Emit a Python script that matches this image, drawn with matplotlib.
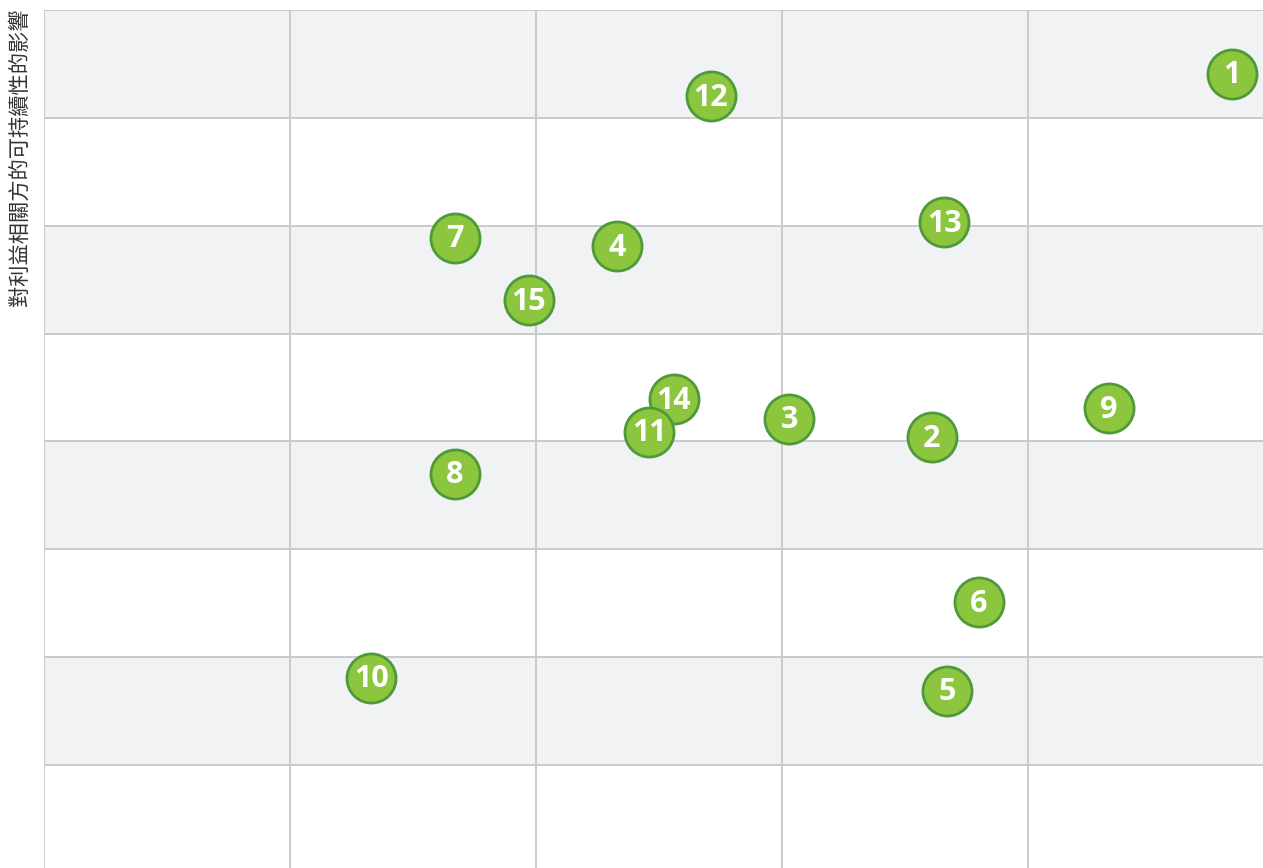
import matplotlib.pyplot as plt

# issue positions (x = column units, y = impact on stakeholders)
labels = ["1", "2", "3", "4", "5", "6", "7", "8", "9", "10", "11", "12", "13", "14", "15"]
x_vals = [4.83, 3.61, 3.03, 2.33, 3.67, 3.80, 1.67, 1.67, 4.33, 1.33, 2.46, 2.71, 3.66, 2.56, 1.97]
y_vals = [7.41, 4.04, 4.21, 5.81, 1.69, 2.51, 5.89, 3.70, 4.31, 1.81, 4.09, 7.20, 6.03, 4.39, 5.31]
y_title = "對利益相關方的可持續性的影響"

W, H = 1263, 868
fig = plt.figure(figsize=(W / 100, H / 100), dpi=100)
# axes runs a little past the right and bottom edges (chart is cropped)
ax = fig.add_axes([44 / W, -4.9 / H, 1230 / W, 862.9 / H])
ax.set_xlim(0, 5)
ax.set_ylim(0, 8)

for y0 in range(0, 8):
    if y0 % 2 == 1:
        ax.axhspan(y0, y0 + 1, color="#f1f2f4", zorder=0, lw=0)
for yy in range(0, 9):
    ax.axhline(yy, color="#c9cacc", lw=1.4, zorder=1)
for xx in range(0, 6):
    ax.axvline(xx, color="#c9cacc", lw=1.4, zorder=1)

for s in ax.spines.values():
    s.set_visible(False)
ax.set_xticks([])
ax.set_yticks([])

# drawn back to front so 11 sits on top of 14
n = len(labels)
for i in reversed(range(n)):
    z = 3 + 2 * (n - i)
    ax.scatter(x_vals[i], y_vals[i], s=1250, color="#8cc63e", edgecolor="#4e9a3b",
               linewidth=2, zorder=z, clip_on=False)
    ax.text(x_vals[i], y_vals[i] - 0.015, labels[i], color="white", fontsize=22,
            fontweight="bold", family=["Open Sans", "DejaVu Sans"],
            ha="center", va="center", zorder=z + 1)

fig.text(20 / W, 1 - 9 / H, y_title, rotation=90, ha="center", va="top",
         fontsize=15.3, color="#333333", family=["Noto Sans CJK TC", "DejaVu Sans"])

fig.savefig("out.png", dpi=100)
